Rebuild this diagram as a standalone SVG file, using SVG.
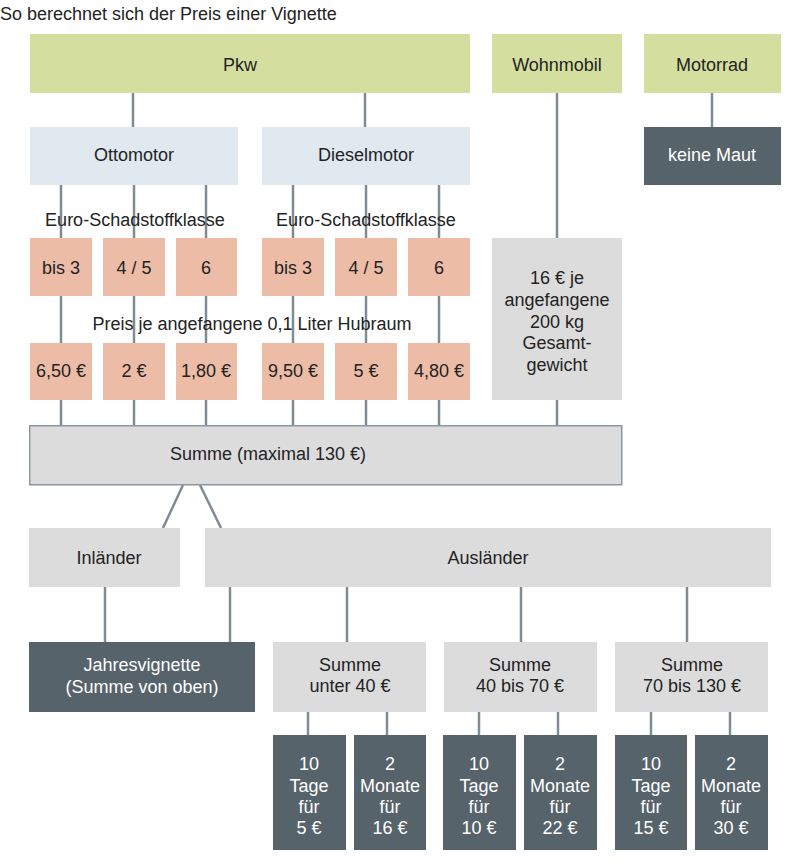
<svg xmlns="http://www.w3.org/2000/svg" width="800" height="868" viewBox="0 0 800 868">
<style>
text{font-family:"Liberation Sans",Arial,sans-serif;font-size:18px;fill:#232323;text-anchor:middle}
.t{text-anchor:start}
.w{fill:#fff}
.green{fill:#d4df9f}
.blue{fill:#dfe9ef}
.salmon{fill:#ecbca7}
.gray{fill:#dcdcdc}
.dark{fill:#57636a}
.sum{fill:#dcdcdc;stroke:#8b979f;stroke-width:1.5}
#connectors line{stroke:#7f8c94;stroke-width:2.5}
</style>
<rect width="800" height="868" fill="#fff"/>
<text class="t" x="0" y="20">So berechnet sich der Preis einer Vignette</text>

<g id="connectors">
<line x1="133" y1="93" x2="133" y2="127"/>
<line x1="365" y1="93" x2="365" y2="127"/>
<line x1="557" y1="93" x2="557" y2="238"/>
<line x1="712" y1="93" x2="712" y2="127"/>
<line x1="61" y1="185" x2="61" y2="425"/>
<line x1="134" y1="185" x2="134" y2="425"/>
<line x1="206" y1="185" x2="206" y2="425"/>
<line x1="293" y1="185" x2="293" y2="425"/>
<line x1="366" y1="185" x2="366" y2="425"/>
<line x1="439" y1="185" x2="439" y2="425"/>
<line x1="557" y1="400" x2="557" y2="425"/>
<line x1="183" y1="485" x2="163" y2="528"/>
<line x1="200" y1="485" x2="221" y2="528"/>
<line x1="105" y1="587" x2="105" y2="642"/>
<line x1="230" y1="587" x2="230" y2="642"/>
<line x1="347" y1="587" x2="347" y2="642"/>
<line x1="521" y1="587" x2="521" y2="642"/>
<line x1="687" y1="587" x2="687" y2="642"/>
<line x1="308" y1="712" x2="308" y2="735"/>
<line x1="387" y1="712" x2="387" y2="735"/>
<line x1="479" y1="712" x2="479" y2="735"/>
<line x1="558" y1="712" x2="558" y2="735"/>
<line x1="651" y1="712" x2="651" y2="735"/>
<line x1="730" y1="712" x2="730" y2="735"/>
</g>

<g id="pkw"><rect class="green" x="30" y="34" width="440" height="59"/><text x="240" y="71">Pkw</text></g>
<g id="wohnmobil"><rect class="green" x="492" y="34" width="130" height="59"/><text x="557" y="71">Wohnmobil</text></g>
<g id="motorrad"><rect class="green" x="644" y="34" width="137" height="59"/><text x="712" y="71">Motorrad</text></g>

<g id="ottomotor"><rect class="blue" x="30" y="127" width="208" height="58"/><text x="134" y="161">Ottomotor</text></g>
<g id="dieselmotor"><rect class="blue" x="262" y="127" width="208" height="58"/><text x="366" y="161">Dieselmotor</text></g>
<g id="keinemaut"><rect class="dark" x="644" y="127" width="137" height="58"/><text class="w" x="712" y="161">keine Maut</text></g>

<g id="label-euro1"><text x="135" y="226">Euro-Schadstoffklasse</text></g>
<g id="label-euro2"><text x="366" y="226">Euro-Schadstoffklasse</text></g>

<g id="o-bis3"><rect class="salmon" x="30" y="238" width="62" height="58"/><text x="61" y="274">bis 3</text></g>
<g id="o-45"><rect class="salmon" x="103" y="238" width="62" height="58"/><text x="134" y="274">4 / 5</text></g>
<g id="o-6"><rect class="salmon" x="176" y="238" width="61" height="58"/><text x="206" y="274">6</text></g>
<g id="d-bis3"><rect class="salmon" x="262" y="238" width="62" height="58"/><text x="293" y="274">bis 3</text></g>
<g id="d-45"><rect class="salmon" x="335" y="238" width="62" height="58"/><text x="366" y="274">4 / 5</text></g>
<g id="d-6"><rect class="salmon" x="408" y="238" width="62" height="58"/><text x="439" y="274">6</text></g>

<g id="wm-preis"><rect class="gray" x="492" y="238" width="130" height="162"/>
<text x="557" y="284">16 € je</text>
<text x="557" y="306">angefangene</text>
<text x="557" y="328">200 kg</text>
<text x="557" y="349">Gesamt-</text>
<text x="557" y="371">gewicht</text></g>

<g id="label-preis"><text x="252" y="330">Preis je angefangene 0,1 Liter Hubraum</text></g>

<g id="o-p1"><rect class="salmon" x="30" y="343" width="62" height="57"/><text x="61" y="377">6,50 €</text></g>
<g id="o-p2"><rect class="salmon" x="103" y="343" width="62" height="57"/><text x="134" y="377">2 €</text></g>
<g id="o-p3"><rect class="salmon" x="176" y="343" width="61" height="57"/><text x="206" y="377">1,80 €</text></g>
<g id="d-p1"><rect class="salmon" x="262" y="343" width="62" height="57"/><text x="293" y="377">9,50 €</text></g>
<g id="d-p2"><rect class="salmon" x="335" y="343" width="62" height="57"/><text x="366" y="377">5 €</text></g>
<g id="d-p3"><rect class="salmon" x="408" y="343" width="62" height="57"/><text x="439" y="377">4,80 €</text></g>

<g id="summe"><rect class="sum" x="29.75" y="425.75" width="592" height="59"/><text x="268" y="460">Summe (maximal 130 €)</text></g>

<g id="inlaender"><rect class="gray" x="29" y="528" width="151" height="59"/><text x="109" y="564">Inländer</text></g>
<g id="auslaender"><rect class="gray" x="205" y="528" width="566" height="59"/><text x="488" y="564">Ausländer</text></g>

<g id="jahresvignette"><rect class="dark" x="29" y="642" width="226" height="70"/><text class="w" x="142" y="671">Jahresvignette</text><text class="w" x="142" y="693">(Summe von oben)</text></g>
<g id="s-unter40"><rect class="gray" x="273" y="642" width="153" height="70"/><text x="350" y="671">Summe</text><text x="350" y="692">unter 40 €</text></g>
<g id="s-40-70"><rect class="gray" x="444" y="642" width="153" height="70"/><text x="520" y="671">Summe</text><text x="520" y="692">40 bis 70 €</text></g>
<g id="s-70-130"><rect class="gray" x="615" y="642" width="153" height="70"/><text x="692" y="671">Summe</text><text x="692" y="692">70 bis 130 €</text></g>

<g id="t1"><rect class="dark" x="273" y="735" width="73" height="115"/><text class="w" x="309" y="770">10</text><text class="w" x="309" y="792">Tage</text><text class="w" x="309" y="813">für</text><text class="w" x="309" y="834">5 €</text></g>
<g id="m1"><rect class="dark" x="354" y="735" width="72" height="115"/><text class="w" x="390" y="770">2</text><text class="w" x="390" y="792">Monate</text><text class="w" x="390" y="813">für</text><text class="w" x="390" y="834">16 €</text></g>
<g id="t2"><rect class="dark" x="443" y="735" width="73" height="115"/><text class="w" x="479" y="770">10</text><text class="w" x="479" y="792">Tage</text><text class="w" x="479" y="813">für</text><text class="w" x="479" y="834">10 €</text></g>
<g id="m2"><rect class="dark" x="524" y="735" width="73" height="115"/><text class="w" x="560" y="770">2</text><text class="w" x="560" y="792">Monate</text><text class="w" x="560" y="813">für</text><text class="w" x="560" y="834">22 €</text></g>
<g id="t3"><rect class="dark" x="615" y="735" width="72" height="115"/><text class="w" x="651" y="770">10</text><text class="w" x="651" y="792">Tage</text><text class="w" x="651" y="813">für</text><text class="w" x="651" y="834">15 €</text></g>
<g id="m3"><rect class="dark" x="695" y="735" width="73" height="115"/><text class="w" x="731" y="770">2</text><text class="w" x="731" y="792">Monate</text><text class="w" x="731" y="813">für</text><text class="w" x="731" y="834">30 €</text></g>
</svg>
